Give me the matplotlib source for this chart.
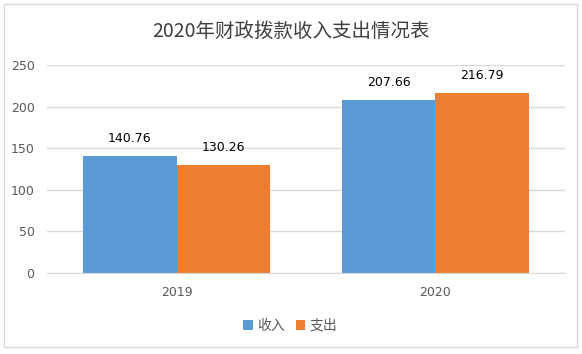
import matplotlib
matplotlib.use("Agg")
import matplotlib.pyplot as plt
from matplotlib.patches import Rectangle
import numpy as np

plt.rcParams['font.family'] = ['Noto Sans CJK SC', 'DejaVu Sans']

categories = ['2019', '2020']
income = [140.76, 207.66]
expense = [130.26, 216.79]
series_names = ['收入', '支出']
title = '2020年财政拨款收入支出情况表'
yticks = [0, 50, 100, 150, 200, 250]

W, H = 582, 354
fig = plt.figure(figsize=(W/100, H/100), dpi=100)
fig.patches.append(Rectangle((4/W, 1-347/H), 573/W, 343/H, transform=fig.transFigure,
                             fill=False, edgecolor='#d9d9d9', linewidth=1))
ax = fig.add_axes([47/W, 1-273/H, (565-47)/W, (273-65)/H])

x = np.arange(len(categories))
bw = 0.36
b1 = ax.bar(x - bw/2, income, bw, color='#5b9bd5', label=series_names[0])
b2 = ax.bar(x + bw/2, expense, bw, color='#ed7d31', label=series_names[1])
for bars in (b1, b2):
    for r in bars:
        ax.annotate(f'{r.get_height():.2f}', (r.get_x()+r.get_width()/2, r.get_height()),
                    xytext=(0, 8), textcoords='offset points', ha='center', va='bottom',
                    fontsize=9, color='#000000', family=['DejaVu Sans'])

ax.set_xlim(-0.5, 1.5)
ax.set_ylim(0, 250)
ax.set_yticks(yticks)
ax.set_xticks(x)
ax.set_xticklabels(categories)
ax.yaxis.grid(True, color='#d9d9d9', linewidth=1)
ax.set_axisbelow(True)
for s in ['top', 'right', 'left']:
    ax.spines[s].set_visible(False)
ax.spines['bottom'].set_color('#d9d9d9')
ax.tick_params(axis='y', length=0, labelsize=9, colors='#595959', pad=9)
ax.tick_params(axis='x', length=0, labelsize=9, colors='#595959', pad=9)
for lab in ax.get_xticklabels() + ax.get_yticklabels():
    lab.set_family(['DejaVu Sans'])

fig.text(0.5, 1-31/H, title, ha='center', va='center', fontsize=14, color='#404040')
fig.legend(loc='center', bbox_to_anchor=(290/W, 1-326/H), ncol=2, frameon=False,
           fontsize=10, handlelength=0.7, handleheight=0.7, handletextpad=0.3,
           columnspacing=0.8, labelcolor='#595959')

fig.savefig('out.png', dpi=100)
